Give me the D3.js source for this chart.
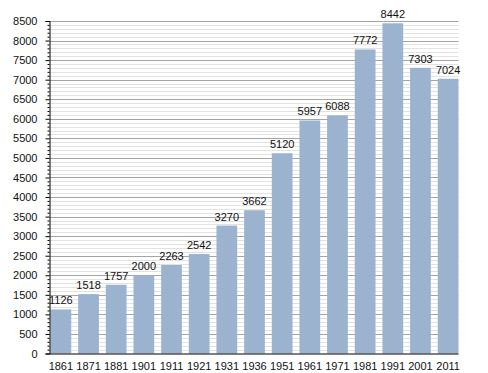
<!DOCTYPE html>
<html><head><meta charset="utf-8">
<script src="https://cdn.jsdelivr.net/npm/d3@7"></script>
<style>body{margin:0;background:#fff}svg{display:block}text{font-family:"Liberation Sans",Arial,sans-serif;font-size:11px;fill:#111}</style>
</head><body>
<svg id="c" width="488" height="373"></svg>
<script>
const years = ["1861","1871","1881","1901","1911","1921","1931","1936","1951","1961","1971","1981","1991","2001","2011"];
const population = [1126,1518,1757,2000,2263,2542,3270,3662,5120,5957,6088,7772,8442,7303,7024];
const yMajorTicks = d3.range(0, 8501, 500);
const yMinorTicks = d3.range(0, 8501, 100);

(function () {
const svg = d3.select("#c");
const mLeft = 49.5, mRight = 458.5, mTop = 21, mBottom = 353.5;
const x = d3.scaleBand().domain(years).range([mLeft + 1, mRight]).paddingInner(0.25).paddingOuter(0);
const y = d3.scaleLinear().domain([0, 8500]).range([mBottom, mTop]);

// minor grid
svg.append("g").selectAll("line").data(yMinorTicks.filter(v => v % 500 !== 0)).join("line")
  .attr("x1", mLeft).attr("x2", mRight)
  .attr("y1", d => Math.round(y(d)) + 0.5).attr("y2", d => Math.round(y(d)) + 0.5)
  .attr("stroke", "#e2e2e2").attr("stroke-width", 1);
// major grid
svg.append("g").selectAll("line").data(yMajorTicks.filter(v => v > 0)).join("line")
  .attr("x1", mLeft).attr("x2", mRight)
  .attr("y1", d => Math.round(y(d)) + 0.5).attr("y2", d => Math.round(y(d)) + 0.5)
  .attr("stroke", "#a4a4a4").attr("stroke-width", 1);

// bars
svg.append("g").selectAll("rect").data(population).join("rect")
  .attr("x", (d, i) => x(years[i]))
  .attr("width", x.bandwidth())
  .attr("y", d => y(d))
  .attr("height", d => mBottom - y(d))
  .attr("fill", "#9bb3cf");

// value labels
svg.append("g").selectAll("text").data(population).join("text")
  .attr("x", (d, i) => x(years[i]) + x.bandwidth() / 2)
  .attr("y", d => y(d) - 5)
  .attr("text-anchor", "middle")
  .text(d => d);

// y axis
const yAxis = d3.axisLeft(y).tickValues(yMajorTicks).tickSize(4).tickPadding(8).tickFormat(d3.format("d"));
const gy = svg.append("g").attr("transform", `translate(${mLeft},0)`).call(yAxis);
gy.select(".domain").attr("stroke", "#000");
gy.selectAll(".tick line").attr("stroke", "#000");
gy.selectAll("text").style("font-size", "11px").attr("fill", "#111").style("font-family", "Liberation Sans, Arial, sans-serif");
const yMinorAxis = d3.axisLeft(y).tickValues(yMinorTicks.filter(v => v % 500 !== 0)).tickSize(2).tickFormat("");
const gym = svg.append("g").attr("transform", `translate(${mLeft},0)`).call(yMinorAxis);
gym.select(".domain").remove();
gym.selectAll(".tick line").attr("stroke", "#000");

// x axis
const xAxis = d3.axisBottom(x).tickSize(0).tickPadding(9);
const gx = svg.append("g").attr("transform", `translate(0,${mBottom})`).call(xAxis);
gx.select(".domain").attr("d", `M${mLeft},0.5H${mRight}`).attr("stroke", "#000");
gx.selectAll("text").style("font-size", "11px").attr("fill", "#111").style("font-family", "Liberation Sans, Arial, sans-serif");
})();
</script>
</body></html>
